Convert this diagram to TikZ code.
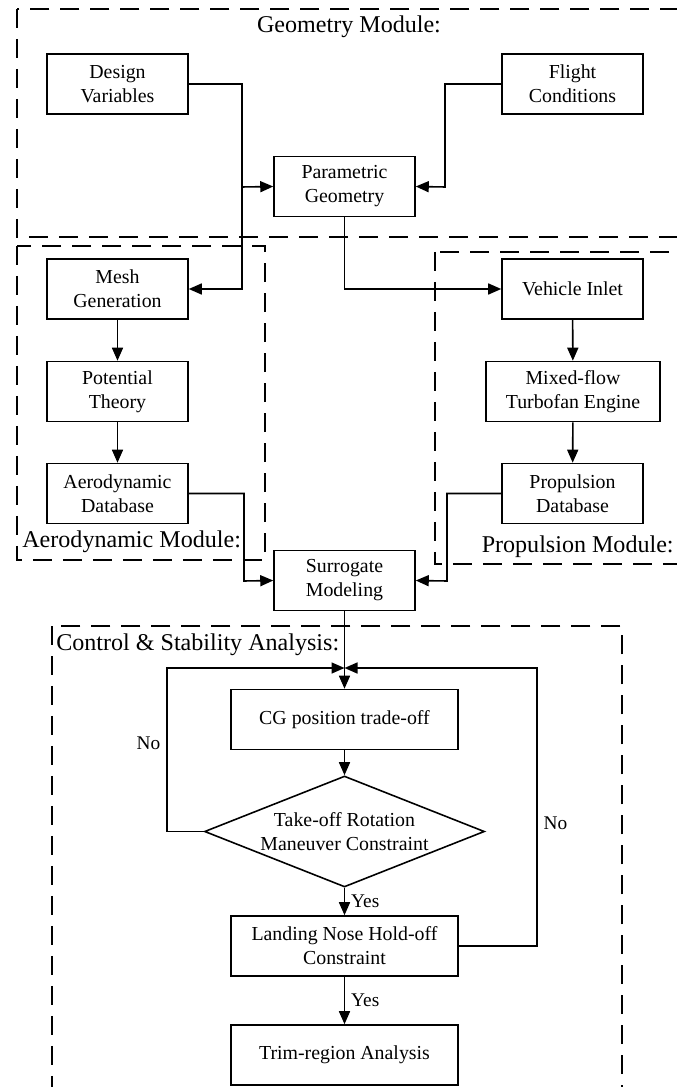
\documentclass[tikz,border=0pt]{standalone}
\usepackage{fontspec}
\setmainfont{Liberation Serif}
\usepackage{tikz}
\usetikzlibrary{shapes.geometric,arrows.meta}

\begin{document}
\begin{tikzpicture}
	[x=0.02cm, y=-0.02cm,
	box_style/.style={draw=black, line width=0.9pt, fill=white, align=center,
		minimum width=2.82cm, minimum height=1.2cm, inner sep=1pt,
		font=\fontsize{11.3}{13.7}\selectfont},
	wide_style/.style={box_style, minimum width=4.54cm},
	decision_style/.style={diamond, draw=black, line width=0.9pt, fill=white,
		aspect=2.52, minimum width=5.6cm, minimum height=2.22cm, inner sep=0pt,
		align=center, font=\fontsize{11.3}{13.7}\selectfont},
	module_style/.style={draw=black, line width=1pt, dash pattern=on 0.38cm off 0.22cm},
	title_style/.style={inner sep=0pt, font=\fontsize{13.7}{16}\selectfont},
	line_style/.style={draw=black, line width=0.9pt},
	edge_style/.style={line_style, -{Triangle[length=0.26cm, width=0.22cm]}},
	label_style/.style={font=\fontsize{11}{13}\selectfont}]
	\useasboundingbox (0,0) rectangle (676,1087);

	% module frames
	\draw[module_style] (17,9) rectangle (720,237);
	\draw[module_style] (17,246) rectangle (265,560);
	\draw[module_style] (435,252) rectangle (720,564);
	\draw[module_style] (52,626) rectangle (622,1120);

	\node[title_style] (geo_title) at (349,27) {Geometry Module:};
	\node[title_style, anchor=west] (aero_title) at (22,542) {Aerodynamic Module:};
	\node[title_style, anchor=east] (prop_title) at (674,547) {Propulsion Module:};
	\node[title_style, anchor=west] (ctrl_title) at (56,645) {Control \& Stability Analysis:};

	% blocks
	\node[box_style] (design) at (117.5,84) {Design\\Variables};
	\node[box_style] (flight) at (572.5,84) {Flight\\Conditions};
	\node[box_style] (geometry) at (344.5,186.5) {Parametric\\Geometry};
	\node[box_style] (mesh) at (117.5,289) {Mesh\\Generation};
	\node[box_style] (potential) at (117.5,391.5) {Potential\\Theory};
	\node[box_style] (aerodb) at (117.5,493.5) {Aerodynamic\\Database};
	\node[box_style] (inlet) at (572.5,289) {Vehicle Inlet};
	\node[box_style, minimum width=3.48cm] (engine) at (573,391.5) {Mixed-flow\\Turbofan Engine};
	\node[box_style] (propdb) at (572.5,493.5) {Propulsion\\Database};
	\node[box_style] (surrogate) at (344.5,580.5) {Surrogate\\Modeling};
	\node[wide_style] (cg) at (344.5,719.5) {CG position trade-off};
	\node[decision_style] (takeoff) at (344.5,831.5) {Take-off Rotation\\Maneuver Constraint};
	\node[wide_style] (landing) at (344.5,946) {Landing Nose Hold-off\\Constraint};
	\node[wide_style] (trim) at (344.5,1055) {Trim-region Analysis};

	% turning points
	\coordinate (dv_turn) at (242,187);
	\coordinate (fc_turn) at (445,187);
	\coordinate (ad_turn) at (244,581);
	\coordinate (pd_turn) at (447,581);
	\coordinate (loop_left) at (167,668);
	\coordinate (loop_right) at (537,668);
	\coordinate (loop_in) at (344.5,668);

	\draw[line_style] (design.east) -| (dv_turn);
	\draw[edge_style] (dv_turn) |- (mesh.east);
	\draw[edge_style] (dv_turn) -- (geometry.west);
	\draw[edge_style] (flight.west) -| (fc_turn) -- (geometry.east);
	\draw[edge_style] (geometry.south) |- (inlet.west);
	\draw[edge_style] (mesh) -- (potential);
	\draw[edge_style] (potential) -- (aerodb);
	\draw[edge_style] (inlet) -- (engine);
	\draw[edge_style] (engine) -- (propdb);
	\draw[edge_style] (aerodb.east) -| (ad_turn) -- (surrogate.west);
	\draw[edge_style] (propdb.west) -| (pd_turn) -- (surrogate.east);
	\draw[edge_style] (surrogate) -- (cg);
	\draw[edge_style] (cg) -- (takeoff);
	\draw[edge_style] (takeoff.west) -| (loop_left) node[label_style, pos=0.77, left] {No} -- (loop_in);
	\draw[edge_style] (landing.east) -| (loop_right) node[label_style, pos=0.72, right] {No} -- (loop_in);
	\draw[edge_style] (takeoff) -- node[label_style, right] {Yes} (landing);
	\draw[edge_style] (landing) -- node[label_style, right] {Yes} (trim);
\end{tikzpicture}
\end{document}
